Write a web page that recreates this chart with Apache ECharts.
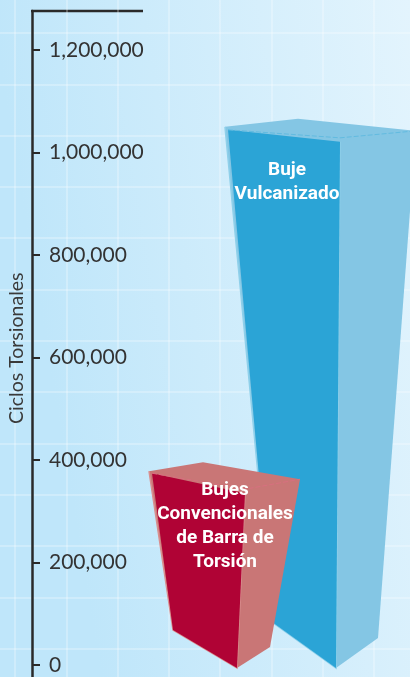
<!DOCTYPE html>
<html>
<head>
<meta charset="utf-8">
<style>
  html, body { margin: 0; padding: 0; }
  #chart { width: 410px; height: 677px; }
</style>
<script src="https://cdn.jsdelivr.net/npm/echarts@6/dist/echarts.min.js"></script>
</head>
<body>
<div id="chart"></div>
<script>
// data
const categories = ['Bujes\nConvencionales\nde Barra de\nTorsión', 'Buje\nVulcanizado'];
const cycles = [380000, 1050000];
const tickValues = [0, 200000, 400000, 600000, 800000, 1000000, 1200000];
const axisTitle = 'Ciclos Torsionales';

// hand drawn perspective of each block: offsets from the front bottom corner (x) and top/base (y)
const blocks = [
  {
    front: '#b00335', side: '#c97676', edge: '#d98f8f', dash: '#d8707f',
    outer: [-88, 1], apex: [-34, -8], right: [63, 9], frontTR: [8, 23], frontTL: [-85, 3],
    base: [0, 3], baseL: [-64, -35], baseR: [33, -18], label: [-12, 56]
  },
  {
    front: '#2ba4d6', side: '#84c6e4', edge: '#8fd0ea', dash: '#62bbe0',
    outer: [-111, 0], apex: [-38, -8], right: [80, 4], frontTR: [4, 15], frontTL: [-108, 3],
    base: [0, 3], baseL: [-64, -43], baseR: [42, -27], label: [-49, 55]
  }
];

function renderBlock(params, api) {
  const i = api.value(0);
  const b = blocks[i];
  const top = api.coord([i, api.value(1)]);
  const zero = api.coord([i, 0]);
  const t = (o) => [top[0] + o[0], top[1] + o[1]];
  const z = (o) => [zero[0] + o[0], zero[1] + o[1]];
  return {
    type: 'group',
    children: [
      { type: 'polygon', shape: { points: [t(b.outer), t(b.apex), t(b.right), z(b.baseR), z(b.base), z(b.baseL)] },
        style: { fill: b.side } },
      { type: 'polyline', shape: { points: [t(b.outer), z(b.baseL), z(b.base), t(b.frontTR)] },
        style: { fill: 'none', stroke: b.edge, lineWidth: 1.5 } },
      { type: 'polygon', shape: { points: [t(b.frontTL), t(b.frontTR), z(b.base), z(b.baseL)] },
        style: { fill: b.front } },
      { type: 'polyline', shape: { points: [t(b.frontTL), [t(b.frontTR)[0], t(b.frontTR)[1] - 4], t(b.right)] },
        style: { fill: 'none', stroke: b.dash, lineWidth: 1, lineDash: [5, 2] } },
      { type: 'text', x: t(b.label)[0], y: t(b.label)[1], z2: 10,
        style: {
          text: categories[i], fill: '#fff', align: 'center', verticalAlign: 'middle',
          font: 'bold 19px Roboto, sans-serif', lineHeight: 24
        } }
    ]
  };
}

const chart = echarts.init(document.getElementById('chart'));

chart.setOption({
  animation: false,
  backgroundColor: new echarts.graphic.LinearGradient(0, 0.1, 1, 0, [
    { offset: 0, color: '#bfe6fa' },
    { offset: 1, color: '#e3f4fd' }
  ]),
  grid: [
    { left: 187.5, width: 198, top: 11, height: 756.5, outerBoundsMode: 'none' },
    // pale sheet grid behind the chart, does not line up with the ticks
    { left: -36.3, top: -18.3, width: 513, height: 718.2, outerBoundsMode: 'none' }
  ],
  xAxis: [
    { type: 'category', data: categories, show: false, gridIndex: 0 },
    { type: 'value', min: 0, max: 10, interval: 1, gridIndex: 1,
      axisLine: { show: false }, axisTick: { show: false }, axisLabel: { show: false },
      splitLine: { lineStyle: { color: 'rgba(255,255,255,0.35)', width: 1.5 } } }
  ],
  yAxis: [
    {
      type: 'value', gridIndex: 0, min: -200000, max: 1276000, offset: 155.5,
      name: axisTitle, nameLocation: 'middle', nameGap: 5, nameMoveOverlap: false,
      nameTextStyle: { color: '#3a3a3a', fontFamily: 'Lato', fontSize: 19.5, fontWeight: 400, padding: [0, 0, 0, 82] },
      axisLine: { show: true, onZero: false, lineStyle: { color: '#2a2a2a', width: 2.5 } },
      axisTick: { show: true, inside: true, length: 8, customValues: tickValues,
        lineStyle: { color: '#2a2a2a', width: 2 } },
      axisLabel: { inside: true, margin: 17, customValues: tickValues, color: '#333',
        fontFamily: 'Lato', fontSize: 21, fontWeight: 400, showMinLabel: true, showMaxLabel: true,
        formatter: (v) => v.toLocaleString('en-US') },
      splitLine: { show: false }
    },
    { type: 'value', min: 0, max: 14, interval: 1, gridIndex: 1,
      axisLine: { show: false }, axisTick: { show: false }, axisLabel: { show: false },
      splitLine: { lineStyle: { color: 'rgba(255,255,255,0.35)', width: 1.5 } } }
  ],
  graphic: [
    { type: 'line', shape: { x1: 31, y1: 11, x2: 143, y2: 11 }, style: { stroke: '#2a2a2a', lineWidth: 2.5 } }
  ],
  series: [
    { type: 'custom', renderItem: renderBlock, clip: false, z: 2, data: [[1, cycles[1]]] },
    { type: 'custom', renderItem: renderBlock, clip: false, z: 3, data: [[0, cycles[0]]] }
  ]
});
</script>
</body>
</html>
